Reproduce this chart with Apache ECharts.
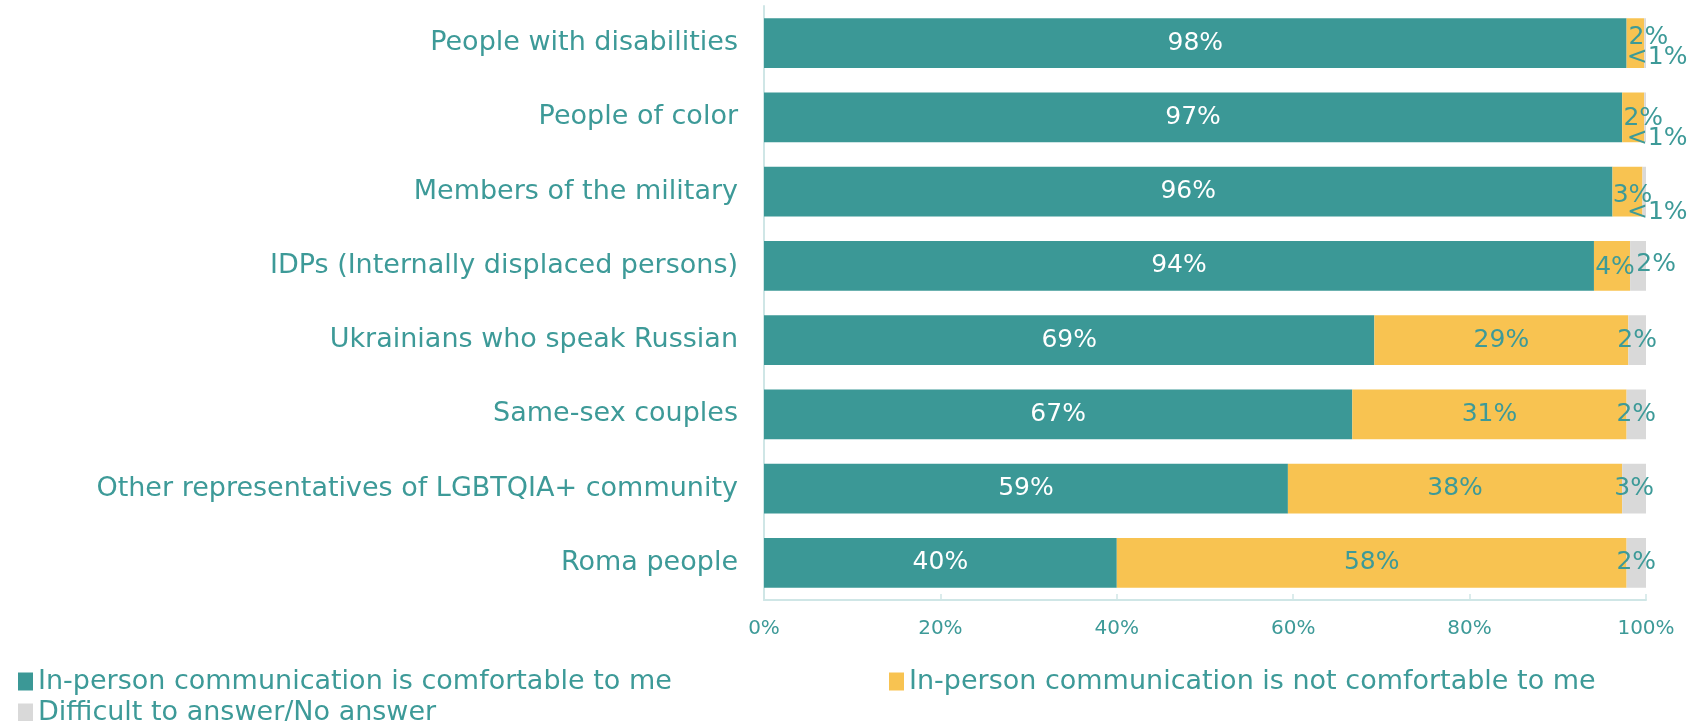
<!DOCTYPE html>
<html><head><meta charset="utf-8">
<script src="https://cdn.jsdelivr.net/npm/echarts@6/dist/echarts.min.js"></script>
<style>html,body{margin:0;padding:0;background:#fff}#c{width:1691px;height:721px}</style>
</head><body><div id="c"></div>
<script>
const categories = [
  "People with disabilities",
  "People of color",
  "Members of the military",
  "IDPs (Internally displaced persons)",
  "Ukrainians who speak Russian",
  "Same-sex couples",
  "Other representatives of LGBTQIA+ community",
  "Roma people"
];
const seriesNames = [
  "In-person communication is comfortable to me",
  "In-person communication is not comfortable to me",
  "Difficult to answer/No answer"
];
const comfortable    = [97.8, 97.3, 96.2, 94.1, 69.2, 66.7, 59.4, 40.0];
const notComfortable = [2.0, 2.5, 3.4, 4.1, 28.8, 31.1, 37.9, 57.8];
const noAnswer       = [0.2, 0.2, 0.4, 1.8, 2.0, 2.2, 2.7, 2.2];
const comfortableLabels    = ["98%", "97%", "96%", "94%", "69%", "67%", "59%", "40%"];
const notComfortableLabels = ["2%", "2%", "3%", "4%", "29%", "31%", "38%", "58%"];
const noAnswerLabels       = ["<1%", "<1%", "<1%", "2%", "2%", "2%", "3%", "2%"];
const xTicks = [0, 20, 40, 60, 80, 100];

// label nudges for the crowded small segments (layout only)
const yellowOffsets = [[13, -6], [10, 1], [5, 4], [3, 2]];
const grayOffsets   = [[12, 14], [12, 21], [13, 21], [18, -1]];

const TEAL = '#3b9896', YELLOW = '#f8c351', GRAY = '#d9d9d9', TXT = '#3d9a98';
const FONT = 'DejaVu Sans';
const BIG = 27, BAR = 25;

function build(values, labels, offsets) {
  return values.map((v, i) => {
    const item = { value: v, labelText: labels[i] };
    if (offsets && offsets[i]) item.label = { offset: offsets[i] };
    return item;
  });
}

const chart = echarts.init(document.getElementById('c'), null, { renderer: 'canvas' });
const barCommon = { type: 'bar', stack: 'total', barWidth: '67%' };
const legendCommon = { itemWidth: 15, itemHeight: 18, icon: 'rect', selectedMode: false,
  textStyle: { color: TXT, fontSize: BIG, fontFamily: FONT } };
const option = {
  animation: false,
  textStyle: { fontFamily: FONT },
  grid: { left: 764, right: 45, top: 6, bottom: 121, containLabel: false },
  xAxis: {
    type: 'value', min: 0, max: 100, interval: 20,
    axisLine: { show: true, lineStyle: { color: '#cfe6e6', width: 2 } },
    axisTick: { show: true, inside: true, length: 6, lineStyle: { color: '#cfe6e6', width: 1.5 } },
    splitLine: { show: false },
    axisLabel: { color: TXT, fontSize: 20, margin: 19, fontFamily: FONT,
      formatter: v => xTicks.includes(v) ? v + '%' : '' }
  },
  yAxis: {
    type: 'category', inverse: true, data: categories,
    axisLine: { show: true, lineStyle: { color: '#cfe6e6', width: 2 } },
    axisTick: { show: false },
    axisLabel: { color: TXT, fontSize: BIG, margin: 26, fontFamily: FONT }
  },
  legend: [
    Object.assign({ data: [seriesNames[0]], left: 13, top: 663 }, legendCommon),
    Object.assign({ data: [seriesNames[1]], left: 884, top: 663 }, legendCommon),
    Object.assign({ data: [seriesNames[2]], left: 13, top: 694 }, legendCommon)
  ],
  series: [
    Object.assign({}, barCommon, {
      name: seriesNames[0], itemStyle: { color: TEAL },
      label: { show: true, position: 'inside', color: '#ffffff', fontSize: BAR, fontFamily: FONT,
        formatter: p => p.data.labelText },
      data: build(comfortable, comfortableLabels)
    }),
    Object.assign({}, barCommon, {
      name: seriesNames[1], itemStyle: { color: YELLOW },
      label: { show: true, position: 'inside', color: TXT, fontSize: BAR, fontFamily: FONT,
        formatter: p => p.data.labelText },
      data: build(notComfortable, notComfortableLabels, yellowOffsets)
    }),
    Object.assign({}, barCommon, {
      name: seriesNames[2], itemStyle: { color: GRAY },
      label: { show: true, position: 'inside', color: TXT, fontSize: BAR, fontFamily: FONT,
        formatter: p => p.data.labelText },
      data: build(noAnswer, noAnswerLabels, grayOffsets)
    })
  ]
};
chart.setOption(option);
</script></body></html>
